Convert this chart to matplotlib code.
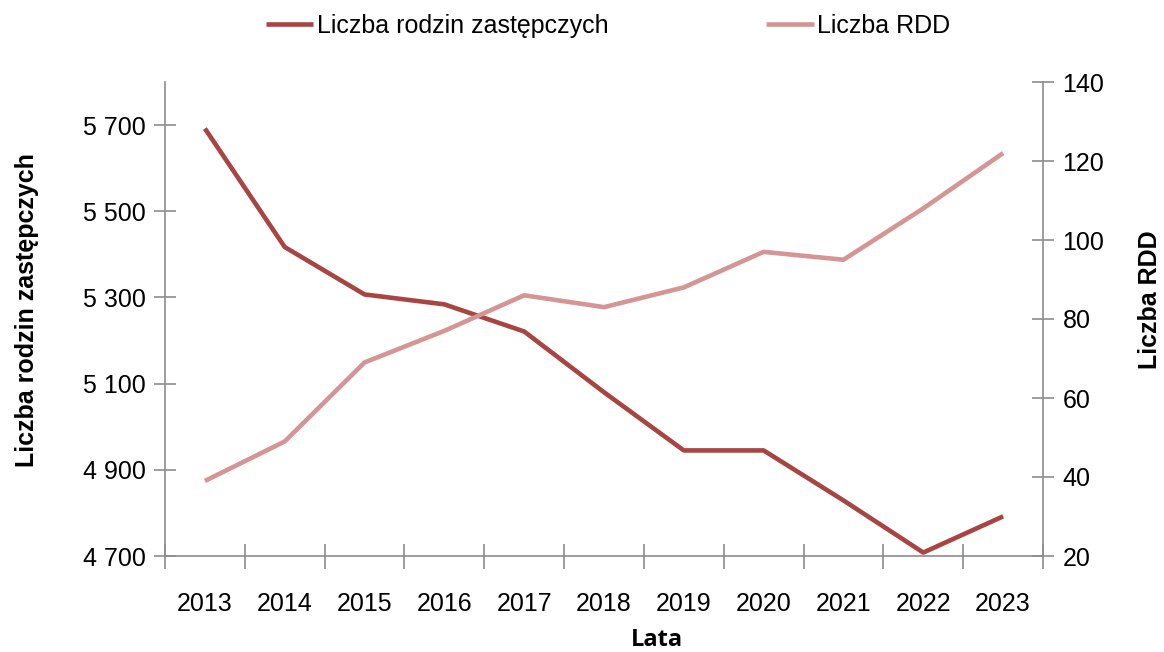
import matplotlib
matplotlib.use("Agg")
import matplotlib.pyplot as plt
from matplotlib import font_manager as fm

years = ["2013", "2014", "2015", "2016", "2017", "2018", "2019", "2020", "2021", "2022", "2023"]
rodziny = [5692, 5417, 5307, 5284, 5221, 5080, 4945, 4945, 4829, 4708, 4792]
rdd = [39, 49, 69, 77, 86, 83, 88, 97, 95, 108, 122]
left_ticks = [4700, 4900, 5100, 5300, 5500, 5700]
left_labels = ["4 700", "4 900", "5 100", "5 300", "5 500", "5 700"]
right_ticks = [20, 40, 60, 80, 100, 120, 140]

names = {f.name for f in fm.fontManager.ttflist}
narrow = "Liberation Sans Narrow" if "Liberation Sans Narrow" in names else "Liberation Sans"
plt.rcParams['font.family'] = [narrow, 'DejaVu Sans']

c_red = "#A84442"
c_pink = "#D59595"
c_axis = "#8C8C8C"

L, R, B, T = 165, 1043, 556, 82
W, H = 1164, 652

fig = plt.figure(figsize=(11.64, 6.52), dpi=100)
ax = fig.add_axes([L/W, (H-B)/H, (R-L)/W, (B-T)/H])
ax2 = ax.twinx()

x = list(range(len(years)))
l1, = ax.plot(x, rodziny, color=c_red, lw=3.3, solid_capstyle='butt', label="Liczba rodzin zastępczych")
l2, = ax2.plot(x, rdd, color=c_pink, lw=3.3, solid_capstyle='butt', label="Liczba RDD")

ax.set_xlim(-0.5, len(years) - 0.5)
ax.set_ylim(4700, 5800)
ax2.set_ylim(20, 140)
ax.set_yticks(left_ticks)
ax.set_yticklabels(left_labels)
ax2.set_yticks(right_ticks)
ax.set_xticks(x)
ax.set_xticklabels(years)
ax.set_xticks([i - 0.5 for i in range(len(years) + 1)], minor=True)
ax.tick_params(axis='x', which='major', length=0, labelsize=18, pad=26)
ax.tick_params(axis='x', which='minor', direction='inout', length=18, width=1.2, color=c_axis)
ax.tick_params(axis='y', direction='inout', length=16, width=1.2, color=c_axis, labelsize=18, pad=6)
ax2.tick_params(axis='y', direction='inout', length=16, width=1.2, color=c_axis, labelsize=18, pad=6)

for a in (ax, ax2):
    a.spines['top'].set_visible(False)
    for s in ('left', 'right', 'bottom'):
        a.spines[s].set_color(c_axis)
        a.spines[s].set_linewidth(1.2)
ax.spines['right'].set_visible(False)
ax2.spines['left'].set_visible(False)
ax2.spines['bottom'].set_visible(False)

def ax_x(px):
    return (px - L) / (R - L)

def ax_y(py):
    return (B - py) / (B - T)

ax.set_ylabel("Liczba rodzin zastępczych", fontsize=18, fontweight='bold')
ax.yaxis.set_label_coords(ax_x(27), ax_y(310))
ax.yaxis.label.set_va('center')
ax2.set_ylabel("Liczba RDD", fontsize=18, fontweight='bold')
ax2.yaxis.set_label_coords(ax_x(1150), ax_y(300))
ax2.yaxis.label.set_va('center')
ax.set_xlabel("Lata", fontsize=17, fontweight='bold', family=['Open Sans', 'DejaVu Sans'])
ax.xaxis.set_label_coords(ax_x(657), ax_y(640))
ax.xaxis.label.set_va('center')

fig.legend(handles=[l1, l2], loc='center', bbox_to_anchor=(608/W, 1 - 26/H), ncol=2,
           frameon=False, fontsize=18, handlelength=1.9, handletextpad=0.15, columnspacing=6.3)

fig.savefig("out.png", dpi=100)
